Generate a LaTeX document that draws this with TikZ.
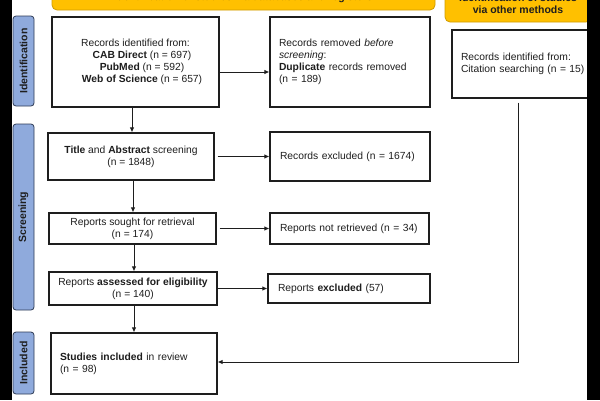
\documentclass[tikz,border=0pt]{standalone}
\usepackage{fontspec}
\setmainfont{Liberation Sans}
\usetikzlibrary{arrows.meta}
\definecolor{hdr}{HTML}{FFC000}
\definecolor{hdrline}{HTML}{D09C00}
\definecolor{lab}{HTML}{8FAADC}
\definecolor{labline}{HTML}{2E3B55}
\definecolor{ink}{HTML}{1E1E1E}
\begin{document}
\begin{tikzpicture}[x=1pt,y=-1pt,
 box/.style={draw=ink, line width=1.1pt, fill=white, inner sep=0pt, font=\fontsize{10.3}{12}\selectfont, text=ink},
 hdrbox/.style={draw=hdrline, fill=hdr, rounded corners=5pt, line width=0.8pt, font=\bfseries\fontsize{10.5}{12}\selectfont, align=center, inner sep=0pt, text=ink},
 sidelab/.style={draw=labline, fill=lab, rounded corners=3pt, line width=0.8pt, font=\bfseries\fontsize{10.5}{12}\selectfont, rotate=90, inner sep=0pt, text=ink},
 arr/.style={draw=ink, line width=1pt, -{Latex[length=5pt,width=4.5pt]}}
]
\useasboundingbox (0,0) rectangle (600,400);
\clip (0,0) rectangle (600,400);
\fill[white] (0,0) rectangle (600,400);

% headers
\node[hdrbox, minimum width=383pt, minimum height=24pt] (h1) at (243.5,-2) {Identification of studies via databases and registers};
\node[hdrbox, minimum width=146pt, minimum height=36pt] (h2) at (518,4) {Identification of studies\\ via other methods};

% side labels
\node[sidelab, minimum width=90pt, minimum height=21pt] (lid) at (23.5,61) {Identification};
\node[sidelab, minimum width=186pt, minimum height=21pt] (lsc) at (23.5,217) {Screening};
\node[sidelab, minimum width=62pt, minimum height=21pt] (lin) at (23.5,363) {Included};

% boxes
\node[box, minimum width=167pt, minimum height=90pt, align=center] (rid) at (135.5,62)
 {Records identified from:\\ \hspace*{13pt}\textbf{CAB Direct} (n = 697)\\ \hspace*{13pt}\textbf{PubMed} (n = 592)\\ \hspace*{13pt}\textbf{Web of Science} (n = 657)};
\node[box, minimum width=160pt, minimum height=90pt, text width=142pt, align=left] (rem) at (350,62)
 {Records removed \textit{before}\\ \textit{screening}:\\ \textbf{Duplicate} records removed\\ (n = 189)};
\node[box, minimum width=190pt, minimum height=68pt, text width=172pt, align=left] (cit) at (547,64)
 {Records identified from:\\ Citation searching (n = 15)};
\node[box, minimum width=166pt, minimum height=47pt, align=center] (tas) at (131,156.5)
 {\textbf{Title} and \textbf{Abstract} screening\\ (n = 1848)};
\node[box, minimum width=160pt, minimum height=49pt, text width=140pt, align=left] (rex) at (350,156.5)
 {Records excluded (n = 1674)};
\node[box, minimum width=167pt, minimum height=31pt, align=center] (rsr) at (132.5,228.5)
 {Reports sought for retrieval\\ (n = 174)};
\node[box, minimum width=159pt, minimum height=31pt, text width=139pt, align=left] (rnr) at (349.5,228.5)
 {Reports not retrieved (n = 34)};
\node[box, minimum width=168pt, minimum height=33pt, align=center] (rae) at (133,288.5)
 {Reports \textbf{assessed for eligibility}\\ (n = 140)};
\node[box, minimum width=162pt, minimum height=29pt, text width=142pt, align=left] (rexc) at (349,288.5)
 {Reports \textbf{excluded} (57)};
\node[box, minimum width=166pt, minimum height=61pt, text width=148pt, align=left] (sin) at (134,363.5)
 {\textbf{Studies included} in review\\ (n = 98)};

% connectors
\draw[arr] ([yshift=-10pt]rid.east) -- ([yshift=-10pt]rid.east -| rem.west);
\draw[arr] ([xshift=1pt]tas.north |- rid.south) -- ([xshift=1pt]tas.north);
\draw[arr] ([xshift=3pt]tas.east) -- (tas.east -| rex.west);
\draw[arr] ([xshift=2pt]tas.south) -- ([xshift=2pt]tas.south |- rsr.north);
\draw[arr] ([xshift=3pt]rsr.east) -- (rsr.east -| rnr.west);
\draw[arr] ([xshift=1.5pt]rsr.south) -- ([xshift=1.5pt]rsr.south |- rae.north);
\draw[arr] (rae.east) -- (rae.east -| rexc.west);
\draw[arr] ([xshift=1pt]rae.south) -- ([xshift=1pt]rae.south |- sin.north);
\coordinate (bend) at (518,362);
\draw[arr] ([yshift=-4pt]bend |- cit.south) -- (bend) -- (bend -| sin.east);

% black strips
\fill[black] (0,0) rectangle (12.3,400);
\fill[black] (587,0) rectangle (600,400);
\end{tikzpicture}
\end{document}
